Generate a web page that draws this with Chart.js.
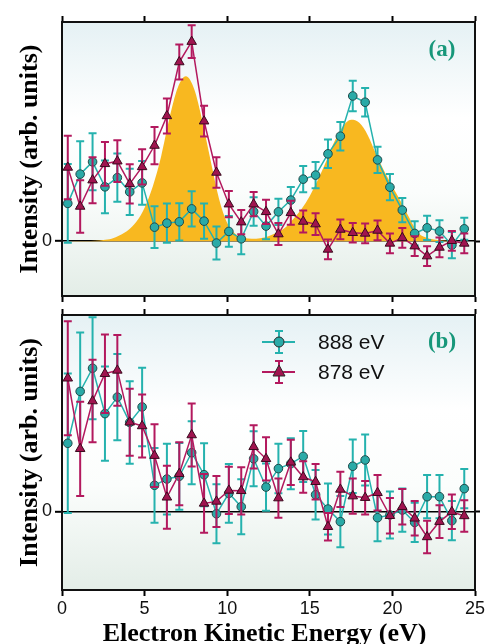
<!DOCTYPE html>
<html><head><meta charset="utf-8">
<script src="https://cdn.jsdelivr.net/npm/chart.js@4/dist/chart.umd.min.js"></script>
<style>
html,body{margin:0;padding:0;background:#fff;}
#wrap{position:relative;width:487px;height:644px;overflow:hidden;}
#c1{position:absolute;left:0;top:0;}
#c2{position:absolute;left:0;top:305px;}
</style></head><body>
<div id="wrap"><canvas id="c1" width="487" height="305"></canvas><canvas id="c2" width="487" height="339"></canvas></div>
<script>
// ---- data ----
const energies = [0.35,1.1,1.85,2.6,3.35,4.1,4.85,5.6,6.35,7.1,7.85,8.6,9.35,10.1,10.85,11.6,12.35,13.1,13.85,14.6,15.35,16.1,16.85,17.6,18.35,19.1,19.85,20.6,21.35,22.1,22.85,23.6,24.35];
const xTicks = [0,5,10,15,20,25];
const seriesNames = ['888 eV','878 eV'];

// panel (a)
const a888 = [0.345,0.612,0.724,0.496,0.58,0.45,0.532,0.128,0.165,0.177,0.295,0.183,-0.017,0.089,0.022,0.27,0.138,0.268,0.375,0.566,0.603,0.797,0.958,1.325,1.268,0.742,0.493,0.284,0.071,0.122,0.092,-0.036,0.113];
const a888err = [0.36,0.3,0.26,0.24,0.22,0.21,0.2,0.19,0.18,0.17,0.16,0.16,0.15,0.14,0.14,0.13,0.12,0.12,0.12,0.12,0.12,0.13,0.13,0.14,0.13,0.12,0.12,0.11,0.11,0.11,0.1,0.12,0.1];
const a878 = [0.673,0.317,0.557,0.706,0.73,0.523,0.678,0.873,1.143,1.635,1.821,1.095,0.627,0.338,0.174,0.338,0.268,0.065,0.259,0.18,0.156,-0.075,0.107,0.077,0.071,0.098,-0.02,0.031,-0.045,-0.136,-0.057,0.004,-0.02];
const a878err = [0.29,0.24,0.21,0.2,0.19,0.18,0.16,0.17,0.16,0.16,0.15,0.14,0.14,0.12,0.11,0.11,0.11,0.1,0.11,0.1,0.1,0.09,0.09,0.09,0.09,0.09,0.09,0.09,0.09,0.09,0.09,0.09,0.09];
const fitEnergy = [0,0.5,1,1.5,2,2.5,3,3.5,4,4.5,5,5.5,6,6.5,7,7.5,8,8.5,9,9.5,10,10.5,11,11.5,12,12.5,13,13.5,14,14.5,15,15.5,16,16.5,17,17.5,18,18.5,19,19.5,20,20.5,21,21.5,22,22.5,23,23.5,24,24.5,25];
const fitValues = [0,0,0.001,0.002,0.004,0.011,0.022,0.054,0.099,0.177,0.306,0.502,0.773,1.119,1.398,1.505,1.389,1.093,0.733,0.39,0.165,0.066,0.032,0.023,0.028,0.046,0.079,0.122,0.202,0.293,0.413,0.562,0.731,0.911,1.047,1.108,1.08,0.97,0.8,0.64,0.5,0.365,0.22,0.085,0.035,0.015,0.006,0.002,0,0,0];

// panel (b)
const b888 = [0.347,0.611,0.729,0.498,0.582,0.453,0.532,0.133,0.165,0.179,0.299,0.187,-0.012,0.092,0.024,0.268,0.124,0.218,0.243,0.28,0.085,0.012,-0.052,0.23,0.262,-0.032,-0.018,0.007,-0.056,0.075,0.075,-0.047,0.116];
const b888err = [0.355,0.3,0.26,0.24,0.22,0.21,0.2,0.19,0.18,0.17,0.16,0.16,0.15,0.15,0.14,0.14,0.12,0.126,0.13,0.13,0.126,0.13,0.13,0.136,0.13,0.12,0.12,0.11,0.1,0.11,0.11,0.1,0.1];
const b878 = [0.678,0.319,0.562,0.701,0.718,0.454,0.435,0.284,0.072,0.192,0.389,0.041,0.051,0.107,0.105,0.329,0.268,0.068,0.25,0.175,0.151,-0.078,0.112,0.078,0.07,0.095,-0.022,0.024,-0.035,-0.13,-0.052,-0.002,-0.023];
const b878err = [0.29,0.24,0.21,0.2,0.18,0.17,0.16,0.16,0.16,0.16,0.16,0.15,0.13,0.12,0.12,0.11,0.11,0.1,0.115,0.08,0.09,0.07,0.09,0.09,0.085,0.09,0.09,0.09,0.088,0.083,0.083,0.088,0.08];

// ---- styles ----
const TEAL = '#25b2ae', TEAL_FILL = '#2aaaa7';
const MAG = '#b3195e', MAG_FILL = '#a0144f';
const ORANGE = '#f8b820';
const SANS = "'Liberation Sans', Arial, sans-serif";
const SERIF = "'Liberation Serif', 'Times New Roman', serif";

const pts = (xs, ys) => xs.map((x, i) => ({x, y: ys[i]}));

const bgPlugin = {
  id: 'bg',
  beforeDraw(chart) {
    const {ctx, chartArea: a} = chart;
    const g = ctx.createLinearGradient(0, a.top, 0, a.bottom);
    g.addColorStop(0, '#e5f1f4');
    g.addColorStop(0.35, '#ffffff');
    g.addColorStop(0.62, '#fbfdfc');
    g.addColorStop(1, '#e3ede7');
    ctx.save();
    ctx.fillStyle = g;
    ctx.fillRect(a.left, a.top, a.right - a.left, a.bottom - a.top);
    ctx.restore();
  }
};

const errPlugin = {
  id: 'errbars',
  beforeDatasetDraw(chart, args) {
    const ds = chart.data.datasets[args.index];
    if (!ds.errors) return;
    const meta = args.meta;
    const ys = chart.scales[meta.yAxisID];
    const ctx = chart.ctx, a = chart.chartArea;
    ctx.save();
    ctx.beginPath();
    ctx.rect(a.left, a.top, a.right - a.left, a.bottom - a.top);
    ctx.clip();
    ctx.strokeStyle = ds.borderColor;
    ctx.lineWidth = 2;
    meta.data.forEach((el, i) => {
      const v = ds.data[i].y, e = ds.errors[i];
      const y1 = ys.getPixelForValue(v + e), y2 = ys.getPixelForValue(v - e);
      const x = el.x;
      ctx.beginPath();
      ctx.moveTo(x, y1); ctx.lineTo(x, y2);
      ctx.moveTo(x - 4, y1); ctx.lineTo(x + 4, y1);
      ctx.moveTo(x - 4, y2); ctx.lineTo(x + 4, y2);
      ctx.stroke();
    });
    ctx.restore();
  }
};

const textPlugin = {
  id: 'texts',
  afterDraw(chart) {
    const o = chart.options.plugins.texts;
    const {ctx, chartArea: a} = chart;
    ctx.save();
    // panel label
    ctx.fillStyle = '#17977a';
    ctx.font = 'bold 23px ' + SERIF;
    ctx.textAlign = 'center'; ctx.textBaseline = 'middle';
    ctx.fillText(o.panel, a.right - 33, a.top + o.panelDy);
    // y title
    ctx.fillStyle = '#000';
    ctx.font = 'bold 26px ' + SERIF;
    ctx.translate(30, (a.top + a.bottom) / 2 + o.yTitleDy);
    ctx.rotate(-Math.PI / 2);
    ctx.fillText('Intensity (arb. units)', 0, 0);
    ctx.restore();
    if (o.xTitle) {
      ctx.save();
      ctx.fillStyle = '#000';
      ctx.font = 'bold 26px ' + SERIF;
      ctx.textAlign = 'center'; ctx.textBaseline = 'middle';
      ctx.fillText(o.xTitle, (a.left + a.right) / 2 - 4, a.bottom + 44);
      ctx.restore();
    }
    if (o.legend) {
      ctx.save();
      const rows = [
        {c: TEAL, f: TEAL_FILL, s: 'circle', t: seriesNames[0], y: a.top + 27},
        {c: MAG, f: MAG_FILL, s: 'triangle', t: seriesNames[1], y: a.top + 57}
      ];
      rows.forEach(r => {
        const x = a.left + 217;
        ctx.strokeStyle = r.c; ctx.lineWidth = 2;
        ctx.beginPath();
        ctx.moveTo(x - 17, r.y); ctx.lineTo(x + 16, r.y);
        ctx.moveTo(x, r.y - 11); ctx.lineTo(x, r.y + 11);
        ctx.moveTo(x - 4, r.y - 11); ctx.lineTo(x + 4, r.y - 11);
        ctx.moveTo(x - 4, r.y + 11); ctx.lineTo(x + 4, r.y + 11);
        ctx.stroke();
        ctx.fillStyle = r.f; ctx.strokeStyle = '#2a2a2a'; ctx.lineWidth = 1;
        ctx.beginPath();
        if (r.s === 'circle') {
          ctx.arc(x, r.y, 5, 0, Math.PI * 2);
        } else {
          ctx.moveTo(x, r.y - 7); ctx.lineTo(x + 6, r.y + 4); ctx.lineTo(x - 6, r.y + 4); ctx.closePath();
        }
        ctx.fill(); ctx.stroke();
        ctx.fillStyle = '#111';
        ctx.font = '21px ' + SANS;
        ctx.textAlign = 'left'; ctx.textBaseline = 'middle';
        ctx.fillText(r.t, a.left + 256, r.y + 1);
      });
      ctx.restore();
    }
  }
};

function noPad(s) { s.paddingTop = 0; s.paddingBottom = 0; s.paddingLeft = 0; s.paddingRight = 0; }

function scales(yMin, yMax, topH, botH, showX) {
  const grid = {drawOnChartArea: false, drawTicks: true, tickLength: 6, tickWidth: 2, tickColor: '#000'};
  const border = {display: true, color: '#111', width: 2};
  const zeroOnly = s => { s.ticks = [{value: 0}]; };
  const xt = s => { s.ticks = xTicks.map(v => ({value: v})); };
  return {
    x: {type: 'linear', min: 0, max: 25, position: 'bottom', afterBuildTicks: xt,
        ticks: {display: showX, font: {family: SANS, size: 18}, color: '#111', padding: 2, maxRotation: 0, autoSkip: false},
        grid, border, afterFit(s) { s.height = botH; noPad(s); }},
    x2: {type: 'linear', min: 0, max: 25, position: 'top', afterBuildTicks: xt,
        ticks: {display: false}, grid, border, afterFit(s) { s.height = topH; noPad(s); }},
    y: {type: 'linear', min: yMin, max: yMax, position: 'left', afterBuildTicks: zeroOnly,
        ticks: {font: {family: SANS, size: 18}, color: '#111', padding: 3},
        grid: {drawOnChartArea: true, color: '#000', lineWidth: 1.6, drawTicks: true, tickLength: 7, tickWidth: 2, tickColor: '#000'},
        border, afterFit(s) { s.width = 62; noPad(s); }},
    y2: {type: 'linear', min: yMin, max: yMax, position: 'right', afterBuildTicks: zeroOnly,
        ticks: {display: false},
        grid: {drawOnChartArea: false, drawTicks: true, tickLength: 5, tickWidth: 2, tickColor: '#000'},
        border, afterFit(s) { s.width = 12; noPad(s); }}
  };
}

function series(d888, e888, d878, e878) {
  return [
    {label: seriesNames[1], data: pts(energies, d878), errors: e878, borderColor: MAG, backgroundColor: MAG_FILL,
     borderWidth: 1.5, pointStyle: 'triangle', pointRadius: 5.5, pointBorderColor: '#3a0a1e', pointBorderWidth: 1,
     pointBackgroundColor: MAG_FILL, tension: 0, fill: false},
    {label: seriesNames[0], data: pts(energies, d888), errors: e888, borderColor: TEAL, backgroundColor: TEAL_FILL,
     borderWidth: 1.5, pointStyle: 'circle', pointRadius: 4.3, pointBorderColor: '#1f4a4a', pointBorderWidth: 1,
     pointBackgroundColor: TEAL_FILL, tension: 0, fill: false}
  ];
}

const common = {
  responsive: false, animation: false, devicePixelRatio: 1,
  layout: {padding: 0},
  plugins: {legend: {display: false}, tooltip: {enabled: false}}
};

new Chart(document.getElementById('c1'), {
  type: 'line',
  data: {datasets: series(a888, a888err, a878, a878err).concat([
    {label: 'fit', data: pts(fitEnergy, fitValues), borderWidth: 0, borderColor: ORANGE, backgroundColor: ORANGE,
     pointRadius: 0, fill: 'origin', cubicInterpolationMode: 'monotone'}
  ])},
  options: Object.assign({}, common, {
    scales: scales(-0.5, 2.0, 22, 9, false),
    plugins: Object.assign({}, common.plugins, {texts: {panel: '(a)', panelDy: 28, yTitleDy: 0}})
  }),
  plugins: [bgPlugin, errPlugin, textPlugin]
});

new Chart(document.getElementById('c2'), {
  type: 'line',
  data: {datasets: series(b888, b888err, b878, b878err)},
  options: Object.assign({}, common, {
    scales: scales(-0.4, 1.0, 10, 54, true),
    plugins: Object.assign({}, common.plugins, {texts: {panel: '(b)', panelDy: 27, yTitleDy: 0, xTitle: 'Electron Kinetic Energy (eV)', legend: true}})
  }),
  plugins: [bgPlugin, errPlugin, textPlugin]
});
</script>
</body></html>
